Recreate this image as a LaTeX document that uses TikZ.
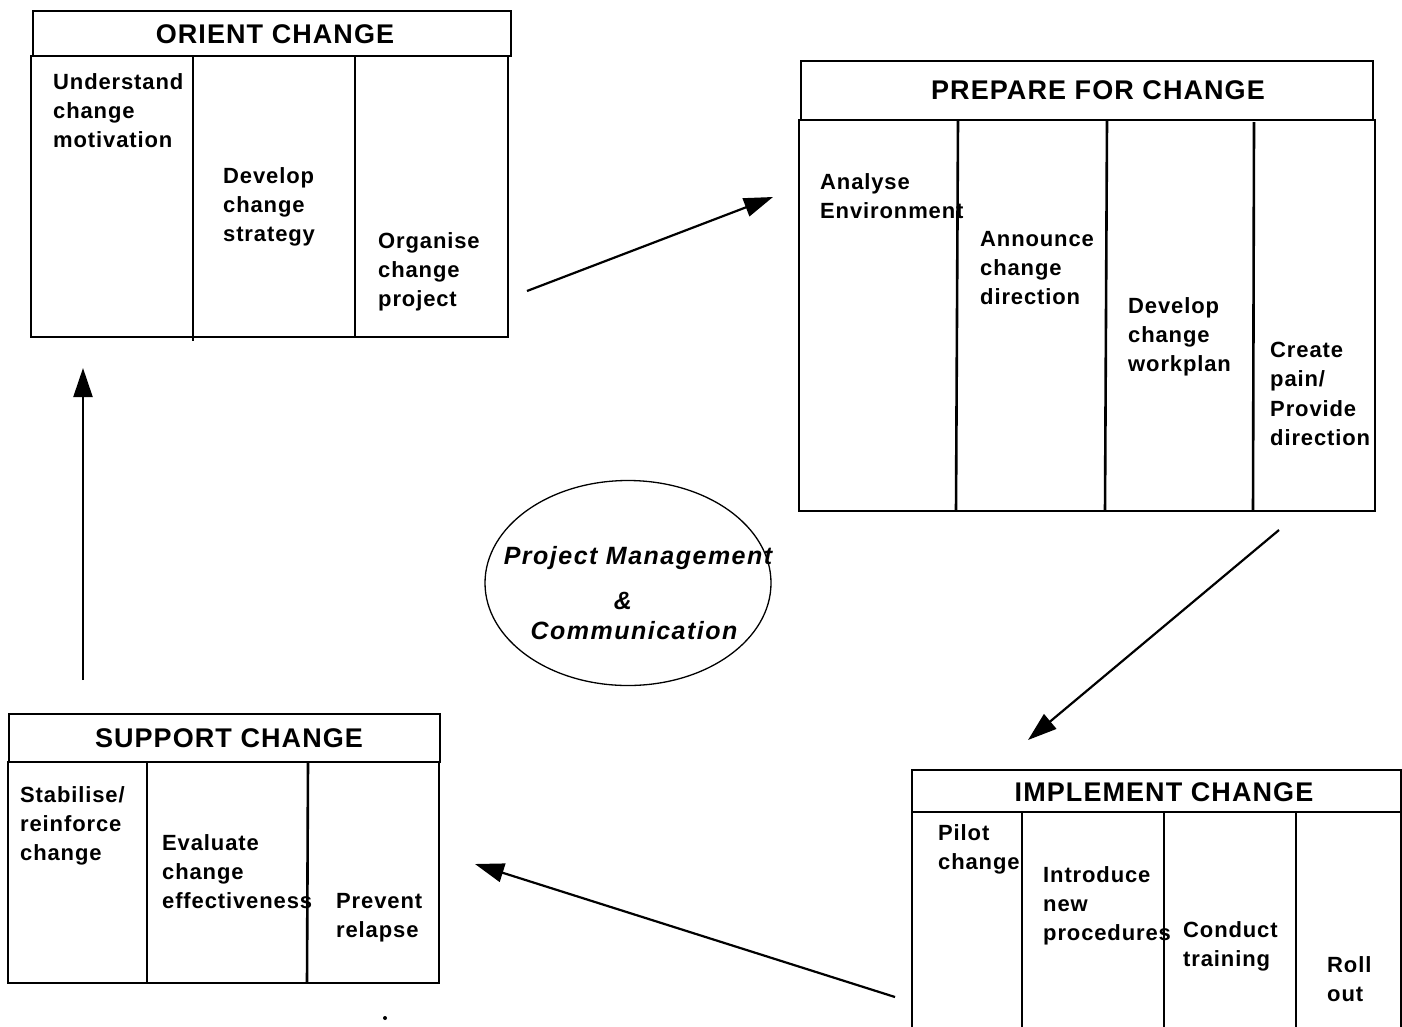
\documentclass[tikz,border=0pt]{standalone}
\usepackage{fontspec}
\setmainfont{Liberation Sans}
\newfontfamily\bodyfont[LetterSpace=4]{Liberation Sans}
\newfontfamily\titlefont[LetterSpace=4]{Liberation Sans}
\newfontfamily\pmfont[LetterSpace=6]{Liberation Sans}
\usetikzlibrary{arrows.meta,shapes.geometric}
\begin{document}
\begin{tikzpicture}[x=1pt,y=-1pt,
  box/.style={draw, line width=2.6pt, inner sep=0pt, outer sep=0pt, anchor=north west},
  titletext/.style={font=\titlefont\bfseries\fontsize{27}{30}\selectfont},
  txt/.style={font=\bodyfont\bfseries\fontsize{22}{29.3}\selectfont, align=left, inner sep=0pt, anchor=north west},
  divider/.style={line width=2.6pt},
  flow/.style={line width=2.2pt, -{Triangle[length=29pt,width=19pt]}},
  pmtext/.style={font=\pmfont\bfseries\itshape\fontsize{25}{28}\selectfont, inner sep=0pt}
]
\useasboundingbox (0,0) rectangle (1402,1026);

% ORIENT CHANGE
\node[box, minimum width=478pt, minimum height=45pt] (oT) at (33,11) {};
\node[titletext] (oTt) at (275,34) {ORIENT CHANGE};
\node[box, minimum width=477pt, minimum height=281pt] (oB) at (31,56) {};
\draw[divider] (193,56) -- (193,341);
\draw[divider] (355,56) -- (355,337);
\node[txt] (o1) at (53,73) {Understand\\change\\motivation};
\node[txt] (o2) at (223,167) {Develop\\change\\strategy};
\node[txt] (o3) at (378,232) {Organise\\change\\project};

% PREPARE FOR CHANGE
\node[box, minimum width=572pt, minimum height=59pt] (pT) at (801,61) {};
\node[titletext] (pTt) at (1098,90) {PREPARE FOR CHANGE};
\node[box, minimum width=576pt, minimum height=391pt] (pB) at (799,120) {};
\draw[divider] (958,120) -- (956,511);
\draw[divider] (1107,120) -- (1105,511);
\draw[divider] (1254,122) -- (1253,511);
\node[txt] (p1) at (820,173) {Analyse\\Environment};
\node[txt] (p2) at (980,231) {Announce\\change\\direction};
\node[txt] (p3) at (1128,297) {Develop\\change\\workplan};
\node[txt] (p4) at (1270,342) {Create\\pain/\\Provide\\direction};

% IMPLEMENT CHANGE
\node[box, minimum width=489pt, minimum height=42pt] (iT) at (912,770) {};
\node[titletext] (iTt) at (1164,792) {IMPLEMENT CHANGE};
\node[box, minimum width=489pt, minimum height=230pt] (iB) at (912,812) {};
\draw[divider] (1022,812) -- (1022,1030);
\draw[divider] (1164,812) -- (1164,1030);
\draw[divider] (1296,812) -- (1296,1030);
\node[txt] (i1) at (938,824) {Pilot\\change};
\node[txt] (i2) at (1043,866) {Introduce\\new\\procedures};
\node[txt] (i3) at (1183,921) {Conduct\\training};
\node[txt] (i4) at (1327,956) {Roll\\out};

% SUPPORT CHANGE
\node[box, minimum width=431pt, minimum height=48pt] (sT) at (9,714) {};
\node[titletext] (sTt) at (229,738) {SUPPORT CHANGE};
\node[box, minimum width=431pt, minimum height=221pt] (sB) at (8,762) {};
\draw[divider] (147,762) -- (147,983);
\draw[divider] (308,762) -- (307,983);
\node[txt] (s1) at (20,786) {Stabilise/\\reinforce\\change};
\node[txt] (s2) at (162,834) {Evaluate\\change\\effectiveness};
\node[txt] (s3) at (336,893) {Prevent\\relapse};

% Centre ellipse
\node[draw, ellipse, line width=1.3pt, minimum width=286pt, minimum height=205pt] (pm) at (628,583) {};
\node[pmtext] (pm1) at (638,558) {Project Management};
\node[pmtext] (pm2) at (623,601) {\&};
\node[pmtext] (pm3) at (634,631) {Communication};

% Arrows
\coordinate (a1s) at (527,291);
\coordinate (a1e) at (773,197);
\coordinate (a2s) at (1279,530);
\coordinate (a2e) at (1028,740);
\coordinate (a3s) at (895,997);
\coordinate (a3e) at (475,864);
\coordinate (a4s) at (83,680);
\coordinate (a4e) at (83,368);
\draw[flow] (a1s) -- (a1e);
\draw[flow] (a2s) -- (a2e);
\draw[flow] (a3s) -- (a3e);
\draw[flow] (a4s) -- (a4e);

% stray dot
\fill (385,1018) circle (2pt);
\end{tikzpicture}
\end{document}
